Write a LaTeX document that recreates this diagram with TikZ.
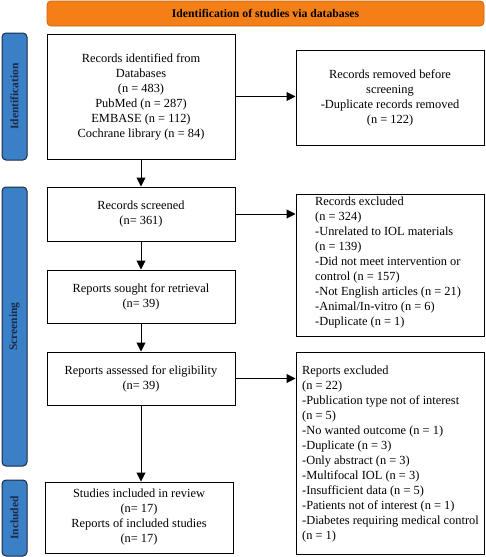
\documentclass[tikz,border=0pt]{standalone}
\usepackage{fontspec}
\setmainfont{Liberation Serif}
\usetikzlibrary{arrows.meta}
\definecolor{bannerfill}{HTML}{F57F17}
\definecolor{bannerdraw}{HTML}{C8630A}
\definecolor{barfill}{HTML}{3A80C6}
\definecolor{bardraw}{HTML}{1B2A44}
\definecolor{bartext}{HTML}{1B2A4A}
\tikzset{
  x=1pt, y=-1pt,
  flowbox/.style={draw=black, line width=1pt, fill=white, minimum width=188pt, inner sep=0pt, align=center, font=\fontsize{12.4}{15}\selectfont},
  sidebar/.style={draw=bardraw, line width=1pt, fill=barfill, rounded corners=4pt, minimum width=25pt, inner sep=0pt},
  sidetext/.style={rotate=90, text=bartext, font=\fontsize{11.5}{13}\selectfont\bfseries},
  listtext/.style={anchor=north west, align=left, inner sep=0pt, font=\fontsize{12.4}{15}\selectfont},
  flowarrow/.style={line width=1pt, -{Triangle[length=9pt,width=9pt]}}
}
\begin{document}
\begin{tikzpicture}
\useasboundingbox (0,0) rectangle (485,557);
% banner
\node[draw=bannerdraw, line width=0.8pt, fill=bannerfill, rounded corners=4pt, minimum width=437pt, minimum height=25pt, inner sep=0pt, font=\fontsize{11.7}{13}\selectfont\bfseries] (banner) at (265.5,13.5) {Identification of studies via databases};
% side bars
\node[sidebar, minimum height=127pt] (barid) at (14.5,96.5) {};
\node[sidetext] (barid-t) at (barid.center) {Identification};
\node[sidebar, minimum height=279pt] (barsc) at (14.5,326.5) {};
\node[sidetext] (barsc-t) at (barsc.center) {Screening};
\node[sidebar, minimum height=76pt] (barin) at (14.5,518) {};
\node[sidetext] (barin-t) at (barin.center) {Included};
% left column
\node[flowbox, minimum height=125pt] (ident) at (141,96.5) {Records identified from\\Databases\\(n = 483)\\PubMed (n = 287)\\EMBASE (n = 112)\\Cochrane library (n = 84)};
\node[flowbox, minimum height=54pt] (screened) at (141,214) {Records screened\\(n= 361)};
\node[flowbox, minimum height=53pt] (sought) at (141,296.5) {Reports sought for retrieval\\(n= 39)};
\node[flowbox, minimum height=53pt] (assessed) at (141,378.5) {Reports assessed for eligibility\\(n= 39)};
\node[flowbox, minimum height=71pt] (studies) at (139,517.5) {Studies included in review\\(n= 17)\\Reports of included studies\\(n= 17)};
% right column
\node[flowbox, minimum height=95pt] (removed) at (390,97.5) {Records removed before\\screening\\-Duplicate records removed\\(n = 122)};
\node[flowbox, minimum height=142pt] (excluded) at (390,265) {};
\node[listtext] (excluded-t) at (315,196.5) {Records excluded\\(n = 324)\\-Unrelated to IOL materials\\(n = 139)\\-Did not meet intervention or\\control (n = 157)\\-Not English articles (n = 21)\\-Animal/In-vitro (n = 6)\\-Duplicate (n = 1)};
\node[flowbox, minimum height=202pt] (repexcl) at (390,453) {};
\node[listtext] (repexcl-t) at (302,365.5) {Reports excluded\\(n = 22)\\-Publication type not of interest\\(n = 5)\\-No wanted outcome (n = 1)\\-Duplicate (n = 3)\\-Only abstract (n = 3)\\-Multifocal IOL (n = 3)\\-Insufficient data (n = 5)\\-Patients not of interest (n = 1)\\-Diabetes requiring medical control\\(n = 1)};
% arrows
\draw[flowarrow] (ident.east) -- (ident.east -| removed.west);
\draw[flowarrow] (ident) -- (screened);
\draw[flowarrow] (screened.east) -- (screened.east -| excluded.west);
\draw[flowarrow] (screened) -- (sought);
\draw[flowarrow] (sought) -- (assessed);
\draw[flowarrow] (assessed.east) -- (assessed.east -| repexcl.west);
\draw[flowarrow] (assessed.south) -- (assessed.south |- studies.north);
\end{tikzpicture}
\end{document}
